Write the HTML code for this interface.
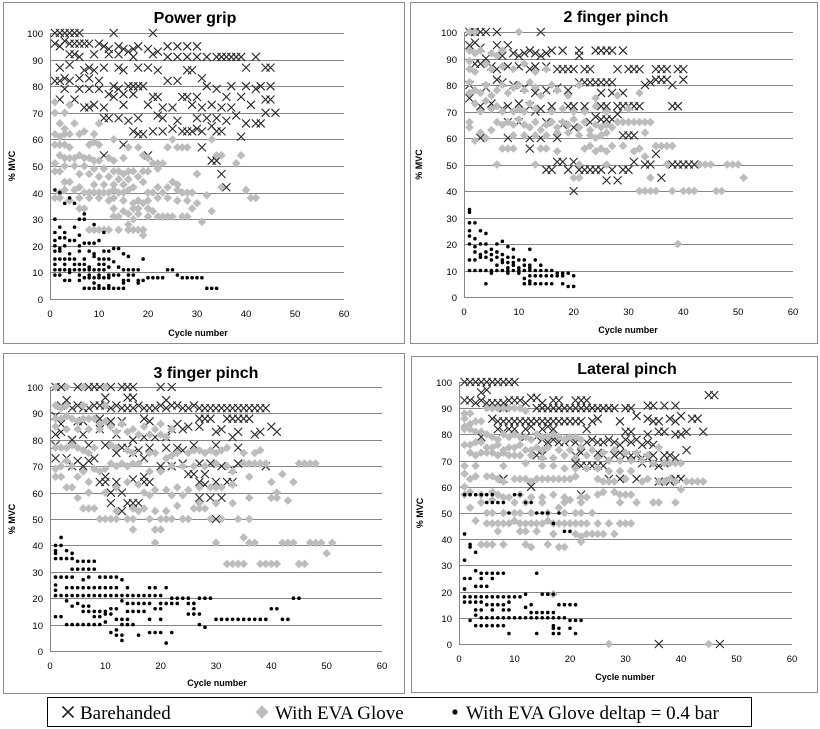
<!DOCTYPE html>
<html><head><meta charset="utf-8">
<style>
body{margin:0;background:#fff;width:820px;height:729px;overflow:hidden;font-family:"Liberation Sans",sans-serif}
svg{position:absolute;left:0;top:0}
</style></head>
<body>
<svg id="chart" width="820" height="729"></svg>
<script>
// ---------- data: [cycle, %MVC] ----------
const yTicks=[0,10,20,30,40,50,60,70,80,90,100];
const xTicks=[0,10,20,30,40,50,60];
const panelTitles=["Power grip","2 finger pinch","3 finger pinch","Lateral pinch"];
const seriesNames=["Barehanded","With EVA Glove","With EVA Glove deltap = 0.4 bar"];

const p1Bare=[[1,100],[2,100],[3,100],[4,100],[5,100],[6,100],[13,100],[21,100],[1,96],[2,95],[3,97],[4,96],[5,96],[6,96],[7,96],[8,96],[10,96],[11,95],[12,94],[14,95],[15,94],[16,93],[17,94],[18,95],[20,94],[22,93],[24,95],[26,95],[28,95],[30,95],[4,92],[5,92],[6,91],[9,92],[12,92],[14,92],[17,91],[21,92],[24,91],[26,91],[28,91],[30,91],[32,91],[34,91],[35,91],[36,91],[37,91],[38,91],[39,91],[42,91],[2,87],[4,88],[7,86],[8,87],[9,86],[11,87],[14,87],[15,86],[18,87],[20,87],[22,86],[28,86],[29,86],[40,87],[44,87],[45,87],[1,82],[2,82],[3,83],[4,82],[6,83],[8,83],[10,82],[10,79],[13,80],[14,79],[16,80],[17,80],[18,80],[19,80],[24,82],[26,82],[31,83],[32,80],[3,79],[6,79],[8,79],[12,77],[13,76],[15,77],[17,77],[21,76],[22,76],[27,76],[28,76],[30,76],[34,79],[36,76],[37,80],[39,76],[40,80],[42,79],[43,80],[45,80],[2,75],[5,75],[7,72],[8,72],[9,73],[11,72],[15,73],[20,73],[23,72],[25,72],[29,73],[31,72],[33,73],[35,72],[37,72],[41,73],[44,75],[45,75],[44,70],[46,70],[11,68],[12,68],[14,68],[16,67],[18,68],[22,69],[23,68],[26,67],[30,68],[32,68],[34,68],[36,67],[38,69],[40,66],[42,66],[43,66],[17,63],[18,62],[19,62],[21,63],[23,63],[25,64],[27,63],[28,63],[29,63],[30,64],[31,63],[33,65],[34,63],[35,63],[39,61],[31,57],[33,52],[34,52],[35,47],[36,42],[11,54],[20,54],[15,58]];
const p1Eva=[[1,74],[1,70],[3,70],[4,73],[2,66],[3,64],[5,66],[1,62],[2,61],[3,62],[4,62],[6,62],[7,63],[9,62],[10,66],[1,58],[2,58],[3,58],[4,57],[8,58],[9,59],[10,58],[13,60],[16,57],[18,57],[25,60],[24,57],[26,57],[27,57],[28,57],[33,60],[2,54],[3,53],[4,53],[5,53],[6,54],[7,53],[8,53],[9,52],[10,52],[12,53],[13,52],[15,53],[19,54],[20,53],[21,51],[22,51],[23,51],[30,47],[34,54],[35,54],[38,51],[39,54],[1,51],[3,50],[5,50],[7,50],[9,49],[11,49],[13,48],[14,48],[15,47],[16,48],[17,48],[19,48],[20,48],[22,49],[1,48],[2,48],[6,47],[8,47],[10,46],[12,46],[14,45],[16,45],[18,46],[3,44],[4,44],[6,42],[9,43],[11,43],[13,43],[15,43],[17,42],[19,44],[22,42],[24,42],[25,44],[26,43],[2,40],[3,41],[5,41],[7,40],[8,40],[9,40],[10,40],[11,40],[12,40],[13,41],[14,40],[15,40],[16,41],[20,40],[21,40],[23,40],[26,41],[27,40],[28,40],[29,40],[1,38],[2,38],[4,37],[6,38],[8,38],[10,38],[12,37],[13,38],[15,37],[17,36],[18,37],[19,36],[20,37],[22,38],[24,38],[26,37],[28,37],[30,36],[32,39],[35,42],[40,41],[41,38],[42,38],[6,34],[7,34],[13,34],[15,33],[17,34],[18,34],[20,34],[21,33],[13,31],[14,31],[16,32],[18,32],[20,31],[22,31],[23,31],[24,31],[25,31],[27,31],[28,31],[29,34],[31,29],[33,33],[8,26],[9,26],[10,26],[11,26],[12,26],[14,26],[16,26],[17,26],[18,26],[19,26],[16,28],[17,30],[19,24]];
const p1Delta=[[1,41],[2,40],[4,38],[3,36],[5,36],[1,30],[6,30],[7,30],[7,32],[9,28],[2,27],[1,25],[3,25],[5,27],[11,25],[1,22],[2,23],[3,23],[4,22],[5,22],[6,24],[1,20],[2,19],[3,20],[6,20],[7,21],[8,21],[9,21],[10,22],[1,18],[2,18],[4,17],[6,18],[8,18],[9,17],[11,18],[12,18],[13,19],[14,19],[15,17],[16,16],[1,15],[2,15],[3,15],[4,15],[5,15],[7,15],[9,16],[10,15],[11,15],[12,15],[13,14],[19,15],[1,13],[3,13],[5,13],[6,13],[7,13],[8,12],[10,13],[11,13],[12,12],[14,12],[1,11],[2,11],[3,11],[4,11],[5,11],[6,11],[7,11],[8,11],[9,11],[10,11],[11,11],[15,11],[16,11],[17,11],[18,11],[24,11],[25,11],[1,9],[2,9],[4,10],[6,9],[8,9],[10,9],[12,9],[13,9],[14,9],[16,9],[17,9],[26,9],[3,7],[4,7],[6,7],[7,8],[8,8],[9,8],[10,8],[11,8],[12,8],[15,7],[16,7],[18,7],[19,7],[20,8],[21,8],[22,8],[23,8],[27,8],[28,8],[29,8],[30,8],[31,8],[7,4],[8,4],[9,4],[10,4],[11,4],[12,4],[13,4],[14,4],[15,4],[32,4],[33,4],[34,4],[9,6],[10,5],[12,5],[15,6],[18,6]];

const p2Bare=[[1,100],[2,100],[3,100],[4,100],[6,100],[14,100],[1,95],[2,96],[3,94],[6,95],[8,95],[4,90],[7,91],[9,92],[10,91],[11,92],[12,93],[13,92],[14,91],[15,92],[16,93],[18,93],[21,93],[21,91],[24,93],[25,93],[26,93],[27,93],[29,93],[2,88],[3,88],[5,87],[6,86],[8,87],[10,87],[12,86],[13,87],[15,87],[17,86],[18,86],[19,86],[20,86],[22,86],[23,86],[28,86],[30,86],[31,86],[32,86],[35,86],[36,86],[37,86],[39,86],[40,86],[1,80],[4,79],[6,82],[7,81],[9,80],[11,79],[13,77],[15,78],[17,79],[19,78],[21,81],[22,81],[23,81],[24,81],[25,81],[26,81],[27,81],[34,81],[35,82],[36,82],[37,82],[38,80],[40,82],[33,80],[1,75],[3,72],[5,73],[7,71],[8,72],[10,73],[12,72],[14,71],[16,72],[19,72],[20,72],[22,72],[25,72],[26,72],[28,72],[29,72],[30,72],[31,72],[32,72],[38,72],[39,72],[27,77],[29,77],[25,77],[8,66],[10,66],[13,70],[15,66],[18,65],[20,64],[23,66],[24,68],[25,67],[26,67],[27,67],[28,69],[3,60],[8,60],[12,60],[14,60],[17,60],[29,61],[30,61],[31,61],[12,56],[17,51],[18,51],[20,51],[15,48],[16,48],[19,48],[21,48],[22,48],[23,48],[24,48],[25,48],[27,48],[29,48],[30,48],[31,51],[33,50],[34,50],[35,54],[38,50],[39,50],[40,50],[41,50],[42,50],[26,44],[28,44],[36,45],[20,40]];
const p2Eva=[[1,100],[2,100],[10,100],[1,93],[2,92],[3,93],[5,92],[6,91],[7,93],[1,89],[1,86],[2,85],[4,88],[5,86],[7,87],[9,86],[11,88],[13,85],[15,86],[1,81],[2,78],[3,77],[4,80],[5,76],[6,78],[7,80],[8,77],[9,79],[10,80],[11,78],[12,81],[13,79],[14,76],[16,80],[17,78],[19,76],[21,80],[24,75],[28,76],[32,77],[1,77],[2,73],[3,70],[4,74],[5,71],[6,72],[7,70],[9,70],[10,71],[11,70],[12,73],[13,71],[16,70],[18,71],[20,70],[22,70],[24,72],[26,70],[30,71],[1,66],[1,64],[3,62],[5,63],[6,66],[7,65],[8,66],[9,65],[10,67],[11,65],[12,64],[13,66],[14,63],[15,65],[16,66],[17,64],[18,66],[19,65],[20,67],[21,64],[22,66],[23,63],[24,65],[25,64],[26,65],[27,64],[28,66],[29,66],[30,66],[31,66],[32,66],[33,66],[34,66],[2,59],[4,60],[9,61],[11,61],[13,61],[15,61],[17,62],[19,62],[21,61],[23,61],[24,60],[25,61],[26,62],[33,62],[7,56],[8,56],[9,56],[14,56],[15,56],[17,55],[22,56],[23,57],[24,55],[25,56],[26,55],[27,57],[29,57],[31,55],[32,56],[35,57],[36,57],[37,57],[38,57],[6,50],[13,50],[21,50],[26,50],[33,53],[37,50],[43,50],[44,50],[45,50],[48,50],[49,50],[50,50],[20,45],[21,45],[34,45],[51,45],[32,40],[33,40],[34,40],[35,40],[38,40],[40,40],[41,40],[42,40],[46,40],[47,40],[39,20]];
const p2Delta=[[1,33],[1,32],[1,28],[2,28],[1,25],[1,23],[2,22],[3,25],[4,24],[1,20],[2,19],[3,20],[4,20],[5,18],[6,20],[7,21],[8,19],[9,18],[2,17],[3,16],[4,17],[5,16],[6,17],[7,16],[3,15],[4,15],[6,15],[7,14],[8,15],[9,15],[1,14],[2,14],[5,14],[7,13],[8,13],[9,13],[10,14],[11,14],[12,18],[12,12],[13,14],[6,12],[8,11],[9,12],[10,11],[11,12],[12,11],[14,12],[1,10],[2,10],[3,10],[4,10],[5,10],[6,10],[7,10],[8,10],[9,10],[10,10],[11,10],[12,10],[13,10],[14,10],[15,10],[16,10],[17,9],[18,9],[19,9],[20,8],[5,9],[8,9],[10,9],[12,8],[13,8],[14,8],[15,8],[16,8],[17,8],[18,8],[11,7],[12,6],[11,5],[12,5],[13,5],[14,5],[15,5],[16,5],[18,5],[19,4],[20,4],[4,5]];

const p3Bare=[[1,100],[2,100],[5,100],[7,100],[8,100],[9,100],[11,100],[13,100],[14,100],[15,100],[20,100],[22,100],[3,95],[10,96],[14,96],[15,96],[21,95],[2,93],[4,92],[5,93],[6,92],[7,92],[8,93],[9,93],[10,93],[11,92],[12,93],[13,92],[14,92],[15,92],[16,93],[17,92],[18,92],[19,92],[20,93],[21,92],[22,93],[23,93],[24,92],[25,92],[26,93],[27,92],[28,92],[29,92],[30,92],[31,92],[32,92],[33,92],[34,92],[35,92],[36,92],[37,92],[38,92],[39,92],[1,89],[2,86],[5,87],[6,87],[9,88],[11,87],[13,87],[17,88],[18,87],[23,86],[27,88],[28,88],[29,88],[32,88],[33,88],[34,88],[35,88],[36,88],[1,82],[2,83],[4,80],[6,82],[9,84],[12,82],[15,80],[17,81],[19,81],[21,81],[22,84],[24,84],[25,85],[27,85],[30,83],[31,84],[33,81],[34,83],[37,82],[38,83],[40,85],[41,83],[1,78],[7,78],[10,78],[13,77],[14,77],[16,76],[18,77],[21,77],[23,77],[24,76],[26,78],[30,78],[34,77],[1,73],[3,73],[5,72],[6,70],[7,72],[8,73],[12,75],[15,75],[17,73],[20,70],[22,70],[24,71],[25,67],[26,67],[27,71],[29,71],[31,70],[33,69],[34,71],[39,70],[4,70],[10,66],[15,65],[17,66],[9,64],[10,64],[12,64],[17,64],[18,64],[27,64],[30,64],[32,64],[33,64],[11,60],[13,60],[14,56],[15,56],[16,56],[11,56],[13,53],[27,58],[29,58],[31,58],[30,50],[28,67],[28,63]];
const p3Eva=[[1,100],[3,100],[6,100],[10,100],[1,93],[2,92],[3,93],[6,93],[10,93],[1,88],[2,88],[3,89],[4,88],[5,87],[6,88],[7,88],[8,88],[9,86],[10,87],[11,85],[13,86],[15,84],[17,85],[19,84],[20,86],[22,84],[1,85],[3,84],[5,84],[7,84],[9,84],[12,83],[14,83],[16,82],[18,82],[20,82],[21,81],[1,77],[2,77],[3,77],[4,78],[5,77],[6,76],[7,75],[8,77],[11,78],[12,77],[14,76],[15,75],[18,75],[19,75],[21,73],[22,74],[23,75],[25,75],[26,76],[27,76],[28,75],[29,76],[30,75],[31,76],[32,77],[35,75],[37,75],[38,76],[1,69],[2,70],[3,72],[4,70],[6,68],[8,69],[9,68],[10,69],[11,71],[12,70],[13,71],[14,70],[15,71],[16,71],[18,68],[20,68],[22,70],[24,70],[26,70],[28,70],[30,71],[32,70],[33,68],[35,71],[36,71],[37,71],[38,71],[39,71],[45,71],[46,71],[47,71],[48,71],[1,66],[2,66],[5,66],[7,64],[12,62],[14,64],[16,63],[19,61],[21,61],[23,62],[25,61],[27,62],[29,62],[30,62],[31,62],[33,63],[36,66],[40,64],[41,60],[42,67],[44,64],[3,62],[4,62],[7,60],[10,60],[17,60],[18,59],[22,59],[24,59],[27,56],[30,56],[33,56],[36,58],[40,58],[41,58],[43,57],[5,58],[6,54],[7,54],[8,54],[12,53],[15,54],[16,53],[17,54],[19,53],[21,53],[23,55],[26,54],[27,54],[28,54],[9,50],[10,50],[11,50],[12,50],[14,50],[15,50],[18,50],[20,50],[21,50],[22,50],[24,50],[25,50],[29,50],[31,50],[34,50],[36,50],[15,46],[19,46],[20,46],[19,41],[30,41],[35,43],[36,41],[37,41],[42,41],[43,41],[44,41],[47,41],[48,41],[49,41],[51,41],[50,37],[32,33],[33,33],[34,33],[35,33],[38,33],[39,33],[40,33],[41,33],[45,33],[46,33]];
const p3Delta=[[1,40],[2,40],[2,43],[1,38],[1,37],[3,38],[4,37],[1,35],[2,35],[3,35],[4,35],[5,34],[6,34],[7,34],[8,34],[4,31],[5,31],[6,31],[7,31],[8,31],[1,28],[2,28],[3,28],[4,28],[6,27],[7,28],[9,28],[10,28],[11,28],[12,28],[13,27],[1,25],[1,23],[3,24],[4,24],[5,24],[6,24],[7,24],[8,24],[9,24],[10,24],[11,24],[12,24],[14,24],[18,24],[19,24],[21,24],[1,21],[2,21],[3,21],[4,21],[5,21],[6,21],[7,21],[8,21],[9,21],[10,21],[11,21],[12,21],[13,21],[14,21],[15,21],[16,21],[17,21],[18,21],[19,21],[20,21],[22,20],[23,20],[24,20],[25,20],[27,20],[28,20],[29,20],[44,20],[45,20],[3,19],[5,18],[4,17],[6,17],[7,17],[13,19],[14,18],[15,18],[16,18],[17,18],[18,18],[20,18],[21,18],[22,18],[23,18],[25,18],[26,18],[6,15],[7,15],[8,15],[9,15],[10,15],[11,16],[12,16],[14,15],[15,15],[16,15],[17,15],[19,16],[20,16],[26,16],[40,16],[41,16],[1,13],[2,13],[8,13],[9,13],[10,14],[11,14],[12,12],[13,12],[14,12],[18,12],[20,12],[25,14],[26,14],[27,14],[30,12],[31,12],[32,12],[33,12],[34,12],[35,12],[36,12],[37,12],[38,12],[39,12],[42,12],[43,12],[3,10],[4,10],[5,10],[6,10],[7,10],[8,10],[9,10],[10,11],[13,10],[14,10],[15,10],[27,10],[28,9],[12,8],[11,7],[12,6],[13,6],[16,6],[18,7],[19,7],[20,7],[22,7],[13,4],[21,3]];

const p4Bare=[[1,100],[2,100],[3,100],[4,100],[5,100],[6,100],[7,100],[8,100],[9,100],[10,100],[4,96],[5,97],[45,95],[46,95],[1,93],[2,93],[3,92],[4,93],[5,92],[6,92],[7,92],[8,92],[9,93],[10,93],[11,93],[12,92],[13,94],[14,94],[15,92],[17,93],[18,93],[21,93],[22,93],[23,93],[8,90],[14,90],[15,90],[16,90],[17,90],[18,90],[19,90],[20,90],[21,90],[22,90],[23,90],[24,90],[25,90],[26,90],[27,90],[28,90],[30,90],[31,90],[34,91],[35,91],[37,91],[39,91],[6,86],[7,85],[8,85],[9,85],[10,85],[11,85],[12,85],[13,85],[14,85],[15,85],[16,85],[17,85],[18,85],[19,85],[20,85],[21,85],[22,85],[24,85],[25,86],[29,85],[32,87],[34,86],[35,85],[36,85],[38,86],[39,85],[40,87],[42,86],[43,86],[4,79],[7,82],[8,81],[9,82],[10,82],[12,82],[13,83],[15,82],[16,83],[17,82],[23,82],[30,81],[31,81],[34,80],[36,81],[37,81],[39,80],[40,80],[41,81],[44,81],[12,79],[14,79],[15,78],[16,77],[17,78],[18,77],[19,77],[20,78],[21,77],[23,77],[24,78],[25,77],[26,77],[27,78],[28,77],[29,76],[30,78],[31,77],[32,78],[33,76],[34,77],[35,76],[14,72],[15,72],[21,72],[22,73],[25,73],[26,72],[28,72],[29,73],[30,72],[31,72],[32,72],[33,71],[34,71],[35,72],[37,72],[38,72],[39,71],[41,74],[21,69],[22,68],[23,68],[24,68],[25,68],[26,68],[33,69],[35,69],[36,68],[37,69],[8,63],[13,60],[27,63],[29,63],[32,63],[36,62],[38,62],[39,63],[40,63],[22,57],[36,0],[47,0]];
const p4Eva=[[1,88],[1,86],[2,88],[1,83],[2,84],[3,85],[4,85],[5,90],[6,90],[7,90],[8,90],[9,90],[10,90],[11,90],[12,89],[1,82],[2,82],[3,81],[4,81],[5,80],[6,79],[7,78],[8,80],[9,79],[10,80],[11,79],[12,79],[13,78],[14,80],[15,79],[16,79],[17,80],[18,79],[19,78],[20,79],[21,79],[22,78],[1,76],[2,76],[3,77],[4,77],[5,75],[6,75],[7,76],[8,74],[9,75],[10,75],[11,76],[12,74],[13,74],[14,75],[15,74],[16,75],[18,74],[20,74],[22,75],[24,74],[26,73],[28,74],[30,73],[32,73],[34,72],[36,75],[2,73],[3,72],[4,73],[5,73],[6,73],[7,72],[8,73],[9,72],[10,72],[11,72],[13,72],[15,71],[17,71],[19,72],[21,71],[23,72],[25,71],[27,70],[29,70],[31,70],[33,70],[35,69],[37,69],[38,69],[39,69],[40,69],[1,68],[3,68],[8,68],[12,69],[15,68],[17,68],[19,67],[21,67],[23,67],[25,67],[27,66],[29,66],[31,66],[1,65],[2,63],[3,64],[5,64],[6,64],[7,63],[8,62],[10,63],[11,63],[12,63],[13,62],[14,63],[15,63],[16,63],[17,63],[18,63],[19,63],[20,63],[21,64],[25,63],[26,62],[27,62],[28,62],[30,63],[33,62],[34,63],[36,62],[37,62],[38,63],[39,62],[41,62],[42,62],[43,62],[44,62],[1,60],[1,57],[2,58],[4,57],[6,58],[7,57],[8,56],[9,56],[11,57],[13,56],[15,56],[17,57],[19,56],[20,55],[22,56],[23,56],[25,57],[26,58],[28,58],[29,57],[30,57],[31,57],[2,52],[4,54],[6,55],[10,54],[12,54],[15,54],[18,52],[19,54],[22,54],[29,54],[32,54],[35,54],[36,54],[39,54],[40,59],[5,50],[6,50],[8,50],[10,50],[11,50],[13,50],[16,50],[19,50],[21,50],[22,50],[24,50],[3,47],[5,46],[6,46],[7,46],[8,46],[9,46],[10,47],[11,46],[12,46],[13,46],[14,46],[15,46],[16,47],[17,46],[18,46],[19,46],[20,46],[21,46],[22,46],[23,46],[25,46],[27,46],[29,46],[30,46],[31,46],[7,43],[11,43],[12,43],[14,43],[17,42],[21,42],[22,41],[23,42],[24,42],[25,42],[26,42],[28,42],[22,39],[4,38],[5,38],[6,38],[8,38],[12,38],[13,37],[16,38],[18,37],[19,37],[17,19],[27,0],[45,0]];
const p4Delta=[[1,57],[2,57],[3,57],[4,57],[5,57],[6,57],[10,57],[11,57],[5,54],[6,54],[7,54],[8,54],[12,54],[13,54],[9,50],[14,50],[15,50],[16,50],[18,50],[17,46],[20,43],[19,43],[1,42],[2,38],[2,37],[3,35],[1,32],[3,28],[4,27],[5,27],[6,27],[7,27],[8,27],[14,27],[1,25],[2,25],[4,25],[6,25],[1,21],[3,22],[4,22],[5,22],[1,18],[2,18],[3,18],[4,18],[5,18],[6,18],[7,18],[8,18],[9,18],[10,18],[11,18],[12,19],[15,19],[16,19],[17,19],[1,16],[2,16],[3,16],[4,16],[5,15],[6,15],[7,15],[8,15],[9,16],[13,15],[18,15],[19,15],[20,15],[21,15],[3,13],[4,13],[6,13],[8,13],[9,13],[12,14],[13,12],[14,12],[15,12],[16,12],[17,12],[3,11],[4,10],[5,10],[6,10],[7,10],[8,10],[9,10],[10,10],[11,10],[12,10],[13,10],[14,10],[15,10],[16,10],[17,10],[18,10],[19,10],[20,9],[21,9],[22,9],[2,9],[3,7],[4,7],[5,7],[6,7],[7,7],[8,7],[17,7],[17,6],[18,6],[20,6],[9,4],[14,4],[17,4],[18,4],[21,4]];

const panelBare=[p1Bare,p2Bare,p3Bare,p4Bare];
const panelEva=[p1Eva,p2Eva,p3Eva,p4Eva];
const panelDelta=[p1Delta,p2Delta,p3Delta,p4Delta];

// ---------- layout ----------
const layout=[
 {box:[3,2,401,341],x0:50,x1:344,yT:33,yB:299,tx:195,ty:23,cx:198,cy:336},
 {box:[410,2,407,341],x0:464,x1:793,yT:32,yB:297,tx:616,ty:22,cx:628,cy:333},
 {box:[3,353,401,340],x0:50,x1:382,yT:387,yB:651,tx:206,ty:378,cx:217,cy:686},
 {box:[411,356,406,336],x0:459,x1:792,yT:382,yB:644,tx:627,ty:374,cx:625,cy:680}
];
const NS="http://www.w3.org/2000/svg";
const svg=document.getElementById('chart');
function mk(tag,attrs,parent){const e=document.createElementNS(NS,tag);for(const k in attrs)e.setAttribute(k,attrs[k]);(parent||svg).appendChild(e);return e;}

function drawX(g,x,y,s,w){s=s||4;w=w||1.1;
 const p=mk('path',{d:`M${x-s} ${y-s}L${x+s} ${y+s}M${x-s} ${y+s}L${x+s} ${y-s}`,stroke:'#262626','stroke-width':w,fill:'none'},g);
 
 }
function drawD(g,x,y,s){s=s||4.3;
 const p=mk('polygon',{points:`${x},${y-s} ${x+s},${y} ${x},${y+s} ${x-s},${y}`,fill:'#bcbcbc'},g);
 
 }
function drawDot(g,x,y,r){r=r||1.8;
 const p=mk('circle',{cx:x,cy:y,r:r,fill:'#000'},g);
 
 }

layout.forEach((L,i)=>{
 const g=mk('g',{});
 
 
 const xs=v=>L.x0+(v-0)/60*(L.x1-L.x0);
 const ys=v=>L.yB-(v/100)*(L.yB-L.yT);
 const b=mk('rect',{x:L.box[0]+.5,y:L.box[1]+.5,width:L.box[2],height:L.box[3],fill:'#fff',stroke:'#8c8c8c','stroke-width':1},g);
 
 
 yTicks.forEach(t=>{
  const yy=Math.round(ys(t))+.5;
  const l=mk('line',{x1:L.x0,x2:L.x1,y1:yy,y2:yy,stroke:'#858585','stroke-width':1},g);
  
  
  const tx=mk('text',{x:L.x0-7,y:yy+3.5,'font-size':9.5,'text-anchor':'end',fill:'#000'},g);
  tx.textContent=t;
  
  
 });
 const ax=mk('line',{x1:L.x0+.5,x2:L.x0+.5,y1:L.yT,y2:L.yB,stroke:'#858585'},g);
 
 
 xTicks.forEach(t=>{
  const tx=mk('text',{x:xs(t),y:L.yB+18,'font-size':9.5,'text-anchor':'middle',fill:'#000'},g);
  tx.textContent=t;
  
  
 });
 const ti=mk('text',{x:L.tx,y:L.ty,'font-size':16,'font-weight':'bold','text-anchor':'middle'},g);
 ti.textContent=panelTitles[i];
 
 
 const xt=mk('text',{x:L.cx,y:L.cy,'font-size':9,'font-weight':'bold','text-anchor':'middle'},g);
 xt.textContent='Cycle number';
 
 
 const ym=(L.yT+L.yB)/2, yx=L.box[0]+12;
 const yt=mk('text',{x:yx,y:ym,'font-size':9,'font-weight':'bold','text-anchor':'middle',transform:`rotate(-90 ${yx} ${ym})`},g);
 yt.textContent='% MVC';
 
 
 panelBare[i].forEach(p=>drawX(g,xs(p[0]),ys(p[1])));
 panelEva[i].forEach(p=>drawD(g,xs(p[0]),ys(p[1])));
 panelDelta[i].forEach(p=>drawDot(g,xs(p[0]),ys(p[1])));
});

// legend
const lg=mk('g',{});


mk('rect',{x:47.5,y:697.5,width:704,height:29,fill:'#fff',stroke:'#000','stroke-width':1},lg);
const legX=[68,262,455];
const legT=[80,275,466];
seriesNames.forEach((n,i)=>{
 const e=mk('g',{},lg);
 
 
 if(i===0)drawX(e,legX[i],712,5.5,1.6);else if(i===1)drawD(e,legX[i],712,6.5);else drawDot(e,legX[i],712,2.6);
 const t=mk('text',{x:legT[i],y:719,'font-size':19,'font-family':'"Liberation Serif",serif'},e);
 t.textContent=n;
 
 
});
</script>
</body></html>
